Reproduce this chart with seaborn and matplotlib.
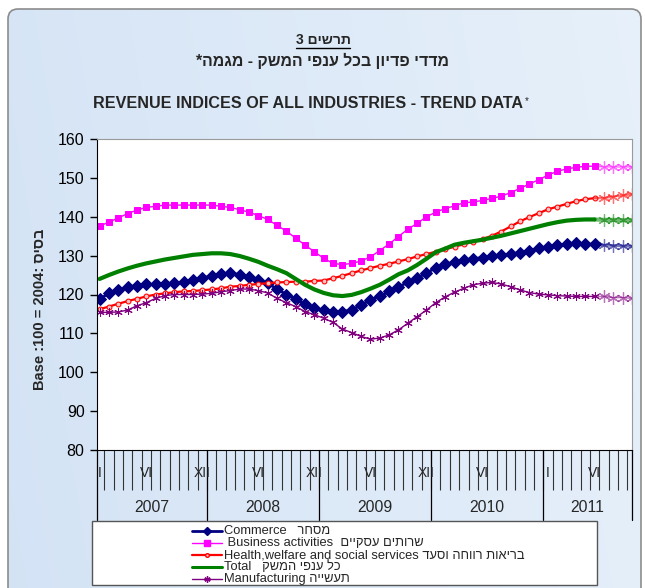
import matplotlib
matplotlib.use('Agg')
import matplotlib.pyplot as plt
import numpy as np
import seaborn as sns
from matplotlib.lines import Line2D
from matplotlib.patches import FancyBboxPatch, Rectangle

W, H = 645, 588

# monthly trend indices, Jan 2007 .. Oct 2011 (last 4 = trend extension)
commerce = [118.8, 120.3, 121.1, 121.9, 122.3, 122.6, 122.6, 122.8, 122.9, 123.2, 123.7, 124.2,
            124.8, 125.2, 125.5, 125.1, 124.6, 123.7, 122.9, 121.4, 120.0, 118.8, 117.6, 116.4,
            116.0, 115.4, 115.6, 116.0, 117.3, 118.6, 119.5, 120.8, 122.0, 123.1, 124.3, 125.5,
            126.9, 127.8, 128.3, 128.9, 129.2, 129.5, 129.8, 130.1, 130.4, 130.8, 131.3, 131.9,
            132.3, 132.7, 132.9, 133.2, 133.0, 132.9, 132.7, 132.6, 132.5, 132.4]
business = [137.6, 138.6, 139.7, 140.8, 141.7, 142.4, 142.7, 143.0, 143.0, 143.0, 143.0, 143.0,
            143.0, 142.7, 142.4, 141.8, 141.2, 140.3, 139.3, 137.8, 136.3, 134.5, 132.7, 131.0,
            129.3, 128.0, 127.7, 128.0, 128.6, 129.7, 131.3, 133.0, 134.9, 136.8, 138.3, 140.0,
            141.2, 142.1, 142.8, 143.6, 143.8, 144.2, 144.7, 145.3, 146.2, 147.3, 148.4, 149.5,
            150.7, 151.7, 152.3, 152.7, 153.0, 153.0, 152.8, 152.8, 152.8, 152.8]
health = [116.2, 116.9, 117.6, 118.3, 118.9, 119.5, 120.0, 120.3, 120.6, 120.8, 120.9, 121.1,
          121.3, 121.6, 122.0, 122.2, 122.5, 122.7, 122.9, 123.1, 123.2, 123.3, 123.3, 123.5,
          123.6, 124.2, 124.8, 125.5, 126.2, 126.8, 127.4, 127.9, 128.5, 129.1, 129.8, 130.4,
          131.0, 131.6, 132.3, 132.9, 133.6, 134.3, 135.1, 136.2, 137.5, 138.8, 139.9, 140.9,
          141.9, 142.6, 143.3, 144.0, 144.5, 144.8, 144.8, 145.2, 145.5, 145.8]
total = [124.0, 125.0, 125.9, 126.7, 127.4, 128.0, 128.5, 129.0, 129.4, 129.8, 130.2, 130.4,
         130.6, 130.6, 130.4, 129.9, 129.2, 128.4, 127.4, 126.5, 125.5, 124.0, 122.5, 121.3,
         120.4, 119.8, 119.6, 119.9, 120.6, 121.5, 122.5, 123.8, 125.2, 126.2, 127.6, 129.2,
         130.9, 131.8, 132.8, 133.3, 133.7, 134.1, 134.6, 135.1, 135.7, 136.3, 136.9, 137.5,
         138.1, 138.6, 139.0, 139.2, 139.3, 139.3, 139.2, 139.2, 139.1, 139.1]
manufacturing = [115.4, 115.4, 115.5, 116.0, 117.1, 117.9, 119.0, 119.7, 120.0, 120.0, 120.0, 120.1,
                 120.3, 120.7, 121.0, 121.4, 121.4, 121.0, 120.4, 119.0, 117.9, 116.9, 115.6, 114.8,
                 113.9, 112.8, 111.1, 110.2, 109.2, 108.5, 108.8, 109.6, 110.9, 112.6, 114.3, 116.0,
                 117.9, 119.4, 120.6, 121.6, 122.5, 122.9, 123.1, 122.7, 122.0, 121.2, 120.5, 120.1,
                 119.9, 119.7, 119.6, 119.5, 119.5, 119.5, 119.5, 119.2, 119.2, 119.0]

years = ['2007', '2008', '2009', '2010', '2011']
month_ticks = [0, 5, 11, 17, 23, 29, 35, 41, 48, 53]
month_names = ['I', 'VI', 'XII', 'VI', 'XII', 'VI', 'XII', 'VI', 'I', 'VI']
N_ACTUAL = 54


def rtl(s):
    # matplotlib has no bidi, so hebrew is written in visual order
    return s[::-1]


series = [
    ('Commerce   ' + rtl('מסחר'), commerce, '#000080',
     dict(marker='D', markersize=6, linewidth=2)),
    (' Business activities  ' + rtl('שרותים עסקיים'), business, '#ff00ff',
     dict(marker='s', markersize=5, linewidth=1)),
    ('Health,welfare and social services ' + rtl('בריאות רווחה וסעד'), health, '#ff0000',
     dict(marker='o', markersize=3.5, linewidth=1.6, markerfacecolor='#ffc0c0')),
    ('Total   ' + rtl('כל ענפי המשק'), total, '#008000',
     dict(linewidth=3)),
    ('Manufacturing ' + rtl('תעשייה'), manufacturing, '#800080',
     dict(marker=(6, 2, 0), markersize=6, linewidth=1)),
]


def fx(px):
    return px / W


def fy(py):
    return 1 - py / H


sns.set_style('white')
plt.rcParams['font.family'] = ['Liberation Sans', 'DejaVu Sans']

fig = plt.figure(figsize=(W / 100, H / 100), dpi=100)

# light blue chart background with rounded border
bg = fig.add_axes([0, 0, 1, 1], zorder=-10)
bg.axis('off')
gx, gy = np.meshgrid(np.linspace(0, 1, 200), np.linspace(0, 1, 200))
t = np.clip(0.65 * gx + 0.1 * (1 - gy), 0, 1)[..., None]
c0 = np.array([0.83, 0.89, 0.96])
c1 = np.array([0.93, 0.96, 0.99])
img = c0 * (1 - t) + c1 * t
im = bg.imshow(img, extent=[0, W, H, 0], aspect='auto')
frame = FancyBboxPatch((8, 9), 633, 620, boxstyle='round,pad=0,rounding_size=10',
                       fc='none', ec='#8c8c8c', lw=1.2)
bg.add_patch(frame)
im.set_clip_path(frame)
bg.set_xlim(0, W)
bg.set_ylim(H, 0)

ax = fig.add_axes([fx(97), fy(450), fx(632) - fx(97), (450 - 139) / H])
ax.set_facecolor('white')
x = np.arange(len(total))
for label, vals, color, kw in series:
    sns.lineplot(x=x[:N_ACTUAL], y=vals[:N_ACTUAL], ax=ax, color=color,
                 markeredgecolor=color, **kw)
    sns.lineplot(x=x[N_ACTUAL - 1:], y=vals[N_ACTUAL - 1:], ax=ax, color=color, alpha=0.55,
                 linewidth=kw.get('linewidth', 1), marker=(6, 2, 0), markersize=9,
                 markeredgewidth=0.9, markeredgecolor=color, markevery=[1, 2, 3, 4])

ax.set_xlim(-0.27, 57)
ax.set_ylim(80, 160)
ax.set_yticks(range(80, 161, 10))
ax.tick_params(axis='y', length=5, width=1, labelsize=11.5, pad=4, colors='black', left=True)
ax.set_xticks(np.arange(57) + 0.5)
ax.set_xticklabels([])
ax.tick_params(axis='x', length=29, width=0.8, color='#333333', direction='out', bottom=True)
ax.set_xlabel('')
ax.set_ylabel('Base :100 = 2004: ' + rtl('בסיס'), fontsize=10.5, weight='bold')
ax.yaxis.set_label_coords((47 - 97) / 535, (450 - 309) / 311)
for side in ['top', 'right']:
    ax.spines[side].set_color('#9a9a9a')
for side in ['left', 'bottom']:
    ax.spines[side].set_color('black')

xt = ax.get_xaxis_transform()
for pos, name in zip(month_ticks, month_names):
    ax.text(pos, -23 / 311, name, transform=xt, ha='center', va='center', fontsize=10)
bounds = [-0.27, 11.5, 23.5, 35.5, 47.5, 57]
for b in bounds:
    ax.plot([b, b], [0, -70 / 311], transform=xt, color='black', lw=0.9, clip_on=False)
for i, yr in enumerate(years):
    ax.text((bounds[i] + bounds[i + 1]) / 2, -58 / 311, yr, transform=xt,
            ha='center', va='center', fontsize=11.3)

head = fig.text(fx(323), fy(40), rtl('תרשים 3'), ha='center', va='center', fontsize=10,
                weight='bold')
fig.text(fx(322), fy(61), rtl('מדדי פדיון בכל ענפי המשק - מגמה*'), ha='center', va='center',
         fontsize=11.4, weight='bold')
fig.text(fx(308), fy(104), 'REVENUE INDICES OF ALL INDUSTRIES - TREND DATA', ha='center',
         va='center', fontsize=11.6, weight='bold')
fig.text(fx(527), fy(101), '*', ha='center', va='center', fontsize=7)

# underline the chart number to the width of its text
fig.canvas.draw()
hb = head.get_window_extent()
fig.add_artist(Line2D([hb.x0 / W, hb.x1 / W], [fy(48), fy(48)], color='black', lw=1))

# legend box at the bottom
fig.add_artist(Rectangle((fx(92), fy(585)), fx(597) - fx(92), (585 - 521) / H,
                         fc='white', ec='#555555', lw=1))
rows = [531, 543, 555, 567, 579]
for (label, vals, color, kw), ry in zip(series, rows):
    mk = kw.get('marker', 'None')
    fig.add_artist(Line2D([fx(192), fx(207), fx(222)], [fy(ry)] * 3, color=color,
                          lw=min(kw.get('linewidth', 1), 2.2), marker=mk,
                          markersize=kw.get('markersize', 5) * 0.75, markevery=[1],
                          markerfacecolor=kw.get('markerfacecolor', color), markeredgecolor=color))
    fig.text(fx(224), fy(ry), label, ha='left', va='center', fontsize=9.3)

fig.savefig('out.png', dpi=100)
